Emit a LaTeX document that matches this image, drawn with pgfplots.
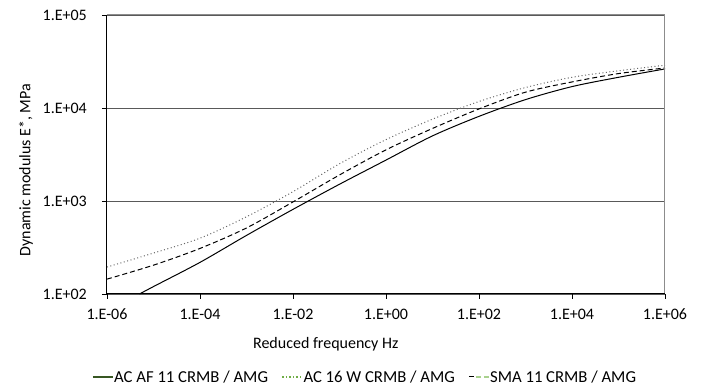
\documentclass[border=0pt]{standalone}
\usepackage{fontspec}
\setmainfont{Carlito}
\usepackage{pgfplots}
\pgfplotsset{compat=1.18}
\definecolor{legdark}{HTML}{385723}
\definecolor{legmid}{HTML}{70AD47}
\definecolor{leglight}{HTML}{A9D18E}
\newcommand{\cfont}{\fontsize{16}{19}\selectfont}
\newcommand{\lfont}{\fontsize{16.7}{20}\selectfont}
\begin{document}
\begin{tikzpicture}
\useasboundingbox (-107pt,-93pt) rectangle (595pt,294pt);
\begin{axis}[
  at={(0pt,0pt)}, anchor=south west,
  scale only axis, width=558pt, height=279pt,
  xmode=log, ymode=log,
  xmin=1e-6, xmax=1e6, ymin=100, ymax=1e5,
  clip=false,
  axis line style={draw=none},
  xtick={1e-6,1e-4,1e-2,1,1e2,1e4,1e6},
  xticklabels={1.E-06,1.E-04,1.E-02,1.E+00,1.E+02,1.E+04,1.E+06},
  ytick={100,1000,10000,100000},
  yticklabels={1.E+02,1.E+03,1.E+04,1.E+05},
  minor tick style={draw=none},
  tick align=outside, major tick length=5pt,
  major tick style={black, line width=0.8pt},
  xtick pos=bottom, ytick pos=left,
  yticklabel style={font=\cfont, anchor=east, inner sep=0pt, xshift=-15pt},
  xticklabel style={font=\cfont, anchor=north, inner sep=0pt, yshift=-10pt},
  ymajorgrids,
  major grid style={black!65, line width=0.9pt},
  xlabel={Reduced frequency Hz},
  xlabel style={font=\cfont, at={(rel axis cs:0.392,0)}, anchor=north, inner sep=0pt, yshift=-43pt},
  ylabel={Dynamic modulus E*, MPa},
  ylabel style={font=\cfont, at={(rel axis cs:-0.145,0.444)}, anchor=center, inner sep=0pt},
  legend columns=3,
  legend style={draw=none, fill=none, font=\lfont,
    at={(rel axis cs:-0.0269,-0.2975)}, anchor=west,
    inner sep=0pt, nodes={inner sep=0.5pt},
    /tikz/every even column/.append style={column sep=13pt}},
]
\addplot[black, line width=1pt, smooth,
  legend image code/.code={\draw[draw=legdark, line width=1.5pt] (0pt,0pt) -- (20pt,0pt);}]
  coordinates {
  (5.0e-6,100) (1e-5,120.2) (1e-4,218.8) (1e-3,426.6) (1e-2,812.8) (1e-1,1513.6)
  (1,2754) (1e1,5012) (1e2,8128) (1e3,12303) (1e4,16982) (1e5,21380) (1e6,26303)};
\addlegendentry{AC AF 11 CRMB / AMG}
\addplot[black!60, line width=1pt, smooth, dash pattern=on 1pt off 2.5pt,
  legend image code/.code={\draw[draw=legmid, line width=1.5pt, dash pattern=on 1.5pt off 2pt] (0pt,0pt) -- (20pt,0pt);}]
  coordinates {
  (1e-6,195.0) (1e-5,275.4) (1e-4,398.1) (1e-3,676.1) (1e-2,1259) (1e-1,2512)
  (1,4571) (1e1,7586) (1e2,11749) (1e3,16596) (1e4,21380) (1e5,25119) (1e6,28840)};
\addlegendentry{AC 16 W CRMB / AMG}
\addplot[black, line width=1pt, smooth, dash pattern=on 5pt off 3pt,
  legend image code/.code={\path (0pt,0pt) -- (7pt,0pt); \draw[draw=leglight, line width=1.5pt, dash pattern=on 5pt off 3pt] (7pt,0pt) -- (20pt,0pt);}]
  coordinates {
  (1e-6,144.5) (1e-5,204.2) (1e-4,309.0) (1e-3,512.9) (1e-2,977.2) (1e-1,1905)
  (1,3548) (1e1,6026) (1e2,9772) (1e3,14791) (1e4,19055) (1e5,23442) (1e6,26915)};
\addlegendentry{SMA 11 CRMB / AMG}
\draw[black!45, line width=1pt] (rel axis cs:0,1) -- (rel axis cs:1,1) -- (rel axis cs:1,0);
\draw[black, line width=1pt] (rel axis cs:0,1) -- (rel axis cs:0,0) -- (rel axis cs:1,0);
\end{axis}
\end{tikzpicture}
\end{document}
